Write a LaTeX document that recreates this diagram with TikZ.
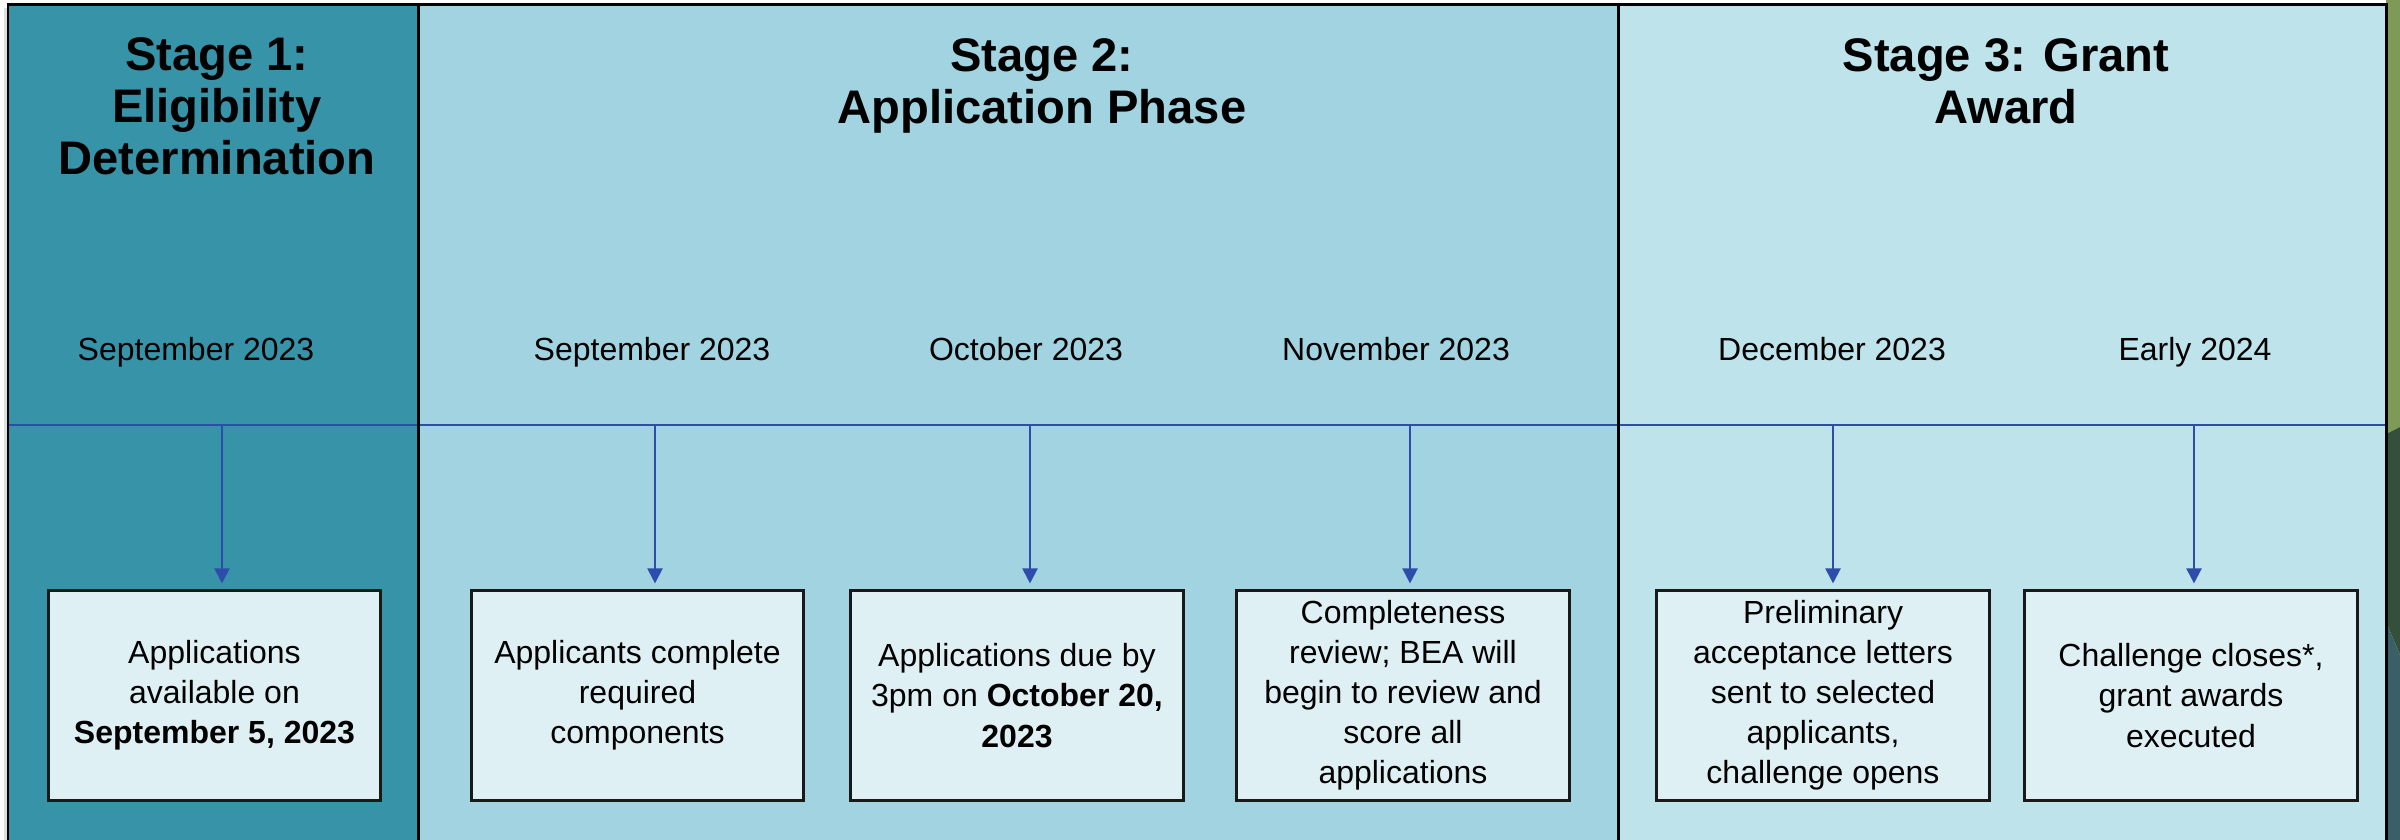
\documentclass[tikz,border=0pt]{standalone}
\usepackage{fontspec}
\setmainfont{Liberation Sans}
\usetikzlibrary{arrows.meta}
\definecolor{sOne}{RGB}{55,148,168}
\definecolor{sTwo}{RGB}{161,211,224}
\definecolor{sThree}{RGB}{190,227,234}
\definecolor{boxfill}{RGB}{223,240,245}
\definecolor{lineblue}{RGB}{46,76,170}
\definecolor{bgOlive}{RGB}{126,154,86}
\definecolor{bgDark}{RGB}{52,80,58}
\definecolor{bgTeal}{RGB}{58,95,102}
\tikzset{
  stagetitle/.style={font=\fontsize{13.4}{14.8}\selectfont\bfseries, align=center, inner sep=0pt},
  datelabel/.style={font=\fontsize{9.1}{11.5}\selectfont, anchor=base, inner sep=0pt},
  eventbox/.style={draw=black!90, line width=0.85pt, fill=boxfill, minimum width=3.32cm, minimum height=2.09cm,
    inner sep=1pt, align=center, font=\fontsize{9.1}{11.4}\selectfont},
  framestroke/.style={draw=black, line width=0.85pt},
  timeline/.style={draw=lineblue, line width=0.55pt},
  tick/.style={draw=lineblue, line width=0.6pt, -{Triangle[width=0.15cm,length=0.15cm]}, shorten >=0.06cm}
}
\begin{document}
\begin{tikzpicture}[x=0.01cm,y=-0.01cm]
\useasboundingbox (0,0) rectangle (2400,840);
\clip (0,0) rectangle (2400,840);
\fill[white] (0,0) rectangle (2400,840);
% slide background at right edge
\fill[bgOlive] (2386,0) -- (2400,0) -- (2400,427) -- (2386,434) -- cycle;
\fill[bgDark] (2386,434) -- (2400,427) -- (2400,655) -- (2386,622) -- cycle;
\fill[bgTeal] (2386,622) -- (2400,655) -- (2400,840) -- (2386,840) -- cycle;
% faint shadow at left edge
\fill[black!12] (4,8) rectangle (8,840);
% stage columns
\fill[sOne] (8,5) rectangle (418,845);
\fill[sTwo] (418,5) rectangle (1618,845);
\fill[sThree] (1618,5) rectangle (2386,845);
% timeline
\coordinate (lineL) at (8,425);
\coordinate (lineR) at (2386,425);
\draw[timeline] (lineL) -- (lineR);
% frame and dividers
\draw[framestroke] (8,845) -- (8,5) -- (2386,5) -- (2386,845);
\draw[framestroke] (418,5) -- (418,845);
\draw[framestroke] (1618,5) -- (1618,845);
% titles
\node[stagetitle] (t1) at (217,106) {Stage 1:\\Eligibility\\Determination};
\node[stagetitle] (t2) at (1042,86) {Stage 2:\\Application Phase};
\node[stagetitle] (t3) at (2006,81) {Stage 3: Grant\\Award};
% dates
\node[datelabel] (d1) at (196,361) {September 2023};
\node[datelabel] (d2) at (652,361) {September 2023};
\node[datelabel] (d3) at (1026,361) {October 2023};
\node[datelabel] (d4) at (1396,361) {November 2023};
\node[datelabel] (d5) at (1832,361) {December 2023};
\node[datelabel] (d6) at (2195,361) {Early 2024};
% boxes
\node[eventbox] (b1) at (214.5,695.5) {Applications\\available on\\\textbf{September 5, 2023}};
\node[eventbox] (b2) at (637.5,695.5) {Applicants complete\\required\\components};
\node[eventbox] (b3) at (1017,695.5) {Applications due by\\3pm on \textbf{October 20,}\\\textbf{2023}};
\node[eventbox] (b4) at (1403,695.5) {Completeness\\review; BEA will\\begin to review and\\score all\\applications};
\node[eventbox] (b5) at (1823,695.5) {Preliminary\\acceptance letters\\sent to selected\\applicants,\\challenge opens};
\node[eventbox] (b6) at (2191,695.5) {Challenge closes*,\\grant awards\\executed};
% arrows
\coordinate (a1) at (222,425);
\coordinate (a2) at (655,425);
\coordinate (a3) at (1030,425);
\coordinate (a4) at (1410,425);
\coordinate (a5) at (1833,425);
\coordinate (a6) at (2194,425);
\foreach \i in {1,...,6}{
  \draw[tick] (a\i) -- (a\i |- b\i.north);
}
\end{tikzpicture}
\end{document}
